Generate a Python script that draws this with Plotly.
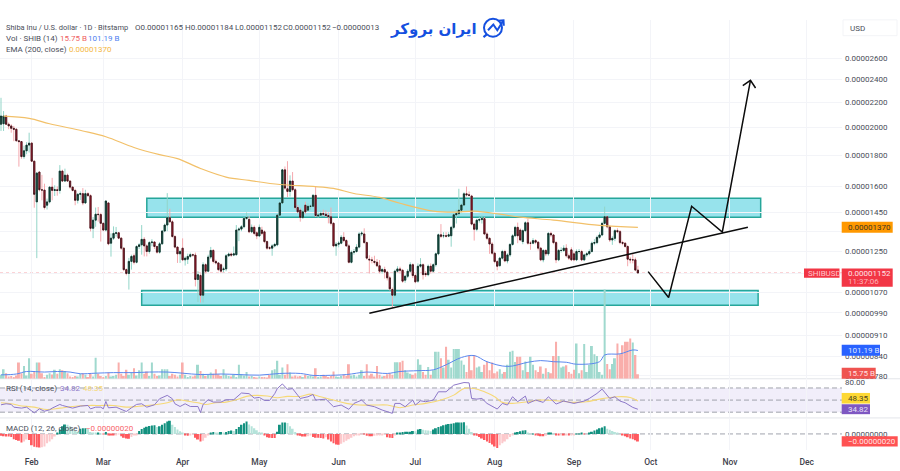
import math

import pandas as pd
import plotly.graph_objects as go

# prices are in units of 0.00000001 USD
opens = [2026, 2030, 2090, 2026, 2013, 1995, 1988, 1903, 1897, 1792,
         1832, 1872, 1886, 1761, 1509, 1690, 1580, 1578, 1490, 1509,
         1596, 1576, 1580, 1576, 1696, 1633, 1670, 1633, 1596, 1576,
         1518, 1553, 1557, 1503, 1557, 1545, 1365, 1408, 1440, 1438,
         1391, 1356, 1503, 1290, 1315, 1339, 1342, 1315, 1266, 1167,
         1150, 1204, 1230, 1200, 1274, 1282, 1309, 1277, 1250, 1293,
         1296, 1274, 1247, 1287, 1351, 1382, 1421, 1399, 1323, 1271,
         1239, 1266, 1211, 1214, 1227, 1235, 1233, 1124, 1141, 1059,
         1189, 1160, 1224, 1255, 1204, 1197, 1189, 1167, 1170, 1230,
         1238, 1233, 1235, 1356, 1361, 1373, 1417, 1412, 1347, 1370,
         1342, 1326, 1356, 1347, 1298, 1268, 1266, 1277, 1282, 1435,
         1503, 1704, 1586, 1570, 1633, 1580, 1477, 1462, 1422, 1490,
         1462, 1484, 1484, 1547, 1430, 1435, 1444, 1440, 1433, 1426,
         1391, 1277, 1285, 1290, 1319, 1303, 1277, 1200, 1246, 1250,
         1271, 1336, 1336, 1293, 1214, 1211, 1204, 1200, 1184, 1160,
         1167, 1156, 1131, 1082, 1059, 1160, 1170, 1164, 1121, 1138,
         1160, 1189, 1141, 1117, 1182, 1189, 1150, 1145, 1182, 1160,
         1189, 1239, 1332, 1327, 1327, 1325, 1327, 1370, 1437, 1443,
         1462, 1491, 1556, 1550, 1543, 1387, 1360, 1408, 1411, 1416,
         1336, 1314, 1286, 1242, 1203, 1185, 1219, 1250, 1206, 1234,
         1284, 1327, 1370, 1356, 1298, 1353, 1394, 1290, 1290, 1303,
         1295, 1266, 1211, 1255, 1239, 1339, 1331, 1293, 1211, 1255,
         1255, 1266, 1230, 1258, 1239, 1211, 1250, 1250, 1211, 1234,
         1239, 1250, 1290, 1293, 1319, 1331, 1391, 1426, 1373, 1306,
         1314, 1353, 1348, 1293, 1290, 1274, 1214, 1211, 1211, 1165]
highs = [2240, 2130, 2100, 2040, 2026, 2013, 1995, 1908, 1900, 1868,
         1893, 1962, 1893, 1765, 1690, 1695, 1672, 1617, 1528, 1600,
         1653, 1607, 1600, 1735, 1705, 1712, 1680, 1637, 1600, 1586,
         1560, 1570, 1590, 1580, 1565, 1553, 1425, 1477, 1480, 1447,
         1396, 1518, 1505, 1339, 1375, 1372, 1345, 1320, 1270, 1172,
         1220, 1235, 1240, 1280, 1290, 1382, 1320, 1285, 1300, 1310,
         1300, 1278, 1296, 1356, 1390, 1560, 1470, 1408, 1330, 1275,
         1258, 1314, 1227, 1240, 1245, 1240, 1245, 1160, 1150, 1200,
         1195, 1235, 1272, 1262, 1212, 1200, 1195, 1180, 1238, 1245,
         1245, 1274, 1382, 1370, 1382, 1425, 1450, 1430, 1385, 1380,
         1350, 1385, 1373, 1355, 1303, 1275, 1285, 1292, 1440, 1510,
         1710, 1726, 1761, 1669, 1690, 1590, 1490, 1475, 1465, 1510,
         1500, 1495, 1555, 1600, 1450, 1460, 1465, 1462, 1450, 1477,
         1398, 1295, 1300, 1330, 1345, 1310, 1285, 1255, 1262, 1285,
         1345, 1350, 1365, 1298, 1232, 1225, 1230, 1215, 1210, 1175,
         1180, 1162, 1140, 1090, 1167, 1182, 1180, 1170, 1145, 1170,
         1200, 1195, 1150, 1195, 1219, 1195, 1160, 1190, 1195, 1195,
         1245, 1338, 1387, 1345, 1345, 1345, 1378, 1445, 1465, 1586,
         1500, 1565, 1600, 1570, 1550, 1395, 1415, 1425, 1434, 1425,
         1345, 1320, 1295, 1250, 1210, 1225, 1258, 1258, 1242, 1290,
         1335, 1378, 1395, 1365, 1360, 1402, 1416, 1300, 1315, 1310,
         1300, 1272, 1262, 1262, 1345, 1348, 1335, 1300, 1262, 1270,
         1280, 1285, 1240, 1270, 1250, 1260, 1262, 1258, 1240, 1248,
         1260, 1298, 1310, 1328, 1345, 1400, 1482, 1432, 1380, 1325,
         1360, 1365, 1356, 1302, 1295, 1280, 1225, 1239, 1222, 1184]
lows = [1975, 1975, 2020, 1988, 1962, 1900, 1897, 1725, 1777, 1777,
        1808, 1820, 1757, 1476, 1219, 1570, 1518, 1466, 1466, 1500,
        1518, 1543, 1545, 1557, 1627, 1627, 1628, 1586, 1570, 1490,
        1500, 1520, 1490, 1498, 1540, 1349, 1315, 1373, 1400, 1298,
        1350, 1349, 1280, 1226, 1306, 1323, 1310, 1258, 1160, 1142,
        1082, 1167, 1190, 1195, 1262, 1235, 1227, 1227, 1240, 1275,
        1262, 1240, 1240, 1282, 1345, 1350, 1395, 1318, 1265, 1197,
        1197, 1205, 1185, 1192, 1220, 1225, 1095, 1032, 1030, 1030,
        1150, 1155, 1215, 1195, 1190, 1160, 1152, 1155, 1160, 1225,
        1225, 1228, 1230, 1300, 1350, 1365, 1410, 1340, 1340, 1330,
        1310, 1320, 1330, 1290, 1258, 1258, 1230, 1270, 1275, 1425,
        1498, 1580, 1537, 1540, 1570, 1465, 1445, 1400, 1415, 1440,
        1455, 1465, 1480, 1425, 1420, 1425, 1430, 1425, 1391, 1380,
        1270, 1230, 1270, 1285, 1295, 1272, 1195, 1195, 1235, 1245,
        1265, 1325, 1288, 1212, 1150, 1195, 1190, 1178, 1150, 1150,
        1128, 1120, 1078, 1009, 1050, 1155, 1150, 1110, 1110, 1130,
        1155, 1130, 1108, 1110, 1175, 1124, 1135, 1138, 1150, 1155,
        1180, 1232, 1315, 1315, 1318, 1320, 1273, 1360, 1390, 1430,
        1450, 1485, 1540, 1540, 1380, 1303, 1350, 1395, 1390, 1330,
        1305, 1239, 1235, 1195, 1164, 1178, 1212, 1200, 1195, 1225,
        1278, 1320, 1290, 1300, 1285, 1345, 1283, 1258, 1285, 1285,
        1255, 1205, 1200, 1228, 1230, 1320, 1285, 1196, 1205, 1245,
        1248, 1222, 1210, 1205, 1205, 1205, 1240, 1205, 1205, 1225,
        1232, 1245, 1280, 1285, 1312, 1325, 1385, 1365, 1296, 1282,
        1300, 1340, 1285, 1280, 1268, 1182, 1195, 1195, 1160, 1152]
closes = [2090, 2090, 2026, 2013, 1995, 1988, 1903, 1897, 1792, 1832,
          1872, 1886, 1761, 1553, 1683, 1580, 1578, 1477, 1509, 1596,
          1576, 1580, 1576, 1696, 1633, 1670, 1633, 1596, 1576, 1518,
          1553, 1557, 1503, 1557, 1545, 1365, 1408, 1440, 1438, 1391,
          1356, 1514, 1287, 1315, 1339, 1342, 1315, 1266, 1167, 1150,
          1204, 1227, 1200, 1274, 1282, 1309, 1277, 1250, 1293, 1296,
          1274, 1247, 1287, 1351, 1382, 1421, 1399, 1323, 1271, 1239,
          1250, 1211, 1219, 1227, 1235, 1233, 1124, 1145, 1059, 1189,
          1160, 1224, 1255, 1204, 1197, 1167, 1160, 1170, 1230, 1238,
          1233, 1239, 1356, 1361, 1373, 1417, 1422, 1347, 1370, 1339,
          1326, 1370, 1339, 1298, 1266, 1266, 1277, 1284, 1435, 1503,
          1704, 1590, 1570, 1633, 1580, 1477, 1453, 1422, 1453, 1453,
          1484, 1484, 1547, 1433, 1435, 1444, 1440, 1433, 1426, 1391,
          1277, 1285, 1290, 1319, 1303, 1277, 1200, 1246, 1250, 1271,
          1336, 1340, 1293, 1219, 1211, 1208, 1200, 1184, 1160, 1167,
          1156, 1131, 1085, 1059, 1160, 1170, 1164, 1117, 1138, 1160,
          1189, 1141, 1114, 1182, 1189, 1145, 1145, 1182, 1160, 1189,
          1239, 1332, 1324, 1327, 1325, 1332, 1370, 1437, 1443, 1462,
          1491, 1556, 1550, 1547, 1387, 1360, 1408, 1411, 1416, 1336,
          1314, 1286, 1242, 1203, 1182, 1219, 1250, 1206, 1234, 1284,
          1327, 1370, 1327, 1306, 1353, 1394, 1290, 1290, 1303, 1295,
          1266, 1211, 1255, 1239, 1339, 1331, 1293, 1211, 1255, 1255,
          1266, 1230, 1219, 1211, 1211, 1250, 1250, 1211, 1234, 1239,
          1250, 1290, 1293, 1319, 1331, 1391, 1426, 1373, 1306, 1314,
          1353, 1348, 1293, 1290, 1274, 1214, 1211, 1211, 1165, 1152]

# billions
volumes = [14, 34, 20, 8, 10, 6, 12, 58, 20, 46,
           12, 73, 18, 25, 58, 58, 20, 6, 14, 20,
           15, 32, 18, 34, 30, 28, 20, 8, 6, 10,
           8, 18, 20, 14, 6, 20, 8, 75, 18, 10,
           6, 10, 22, 8, 10, 14, 58, 18, 10, 32,
           14, 22, 38, 12, 30, 58, 18, 26, 10, 58,
           18, 10, 12, 34, 34, 34, 10, 18, 14, 8,
           14, 58, 14, 6, 10, 8, 12, 50, 28, 18,
           10, 14, 22, 18, 34, 16, 10, 34, 14, 10,
           8, 14, 6, 50, 16, 12, 24, 8, 10, 6,
           4, 8, 6, 6, 4, 14, 30, 34, 64, 14,
           40, 14, 52, 22, 8, 12, 8, 10, 6, 14,
           10, 12, 8, 38, 6, 8, 14, 10, 6, 10,
           26, 8, 6, 10, 14, 10, 52, 12, 14, 8,
           14, 30, 10, 52, 12, 18, 8, 46, 14, 8,
           10, 16, 20, 14, 59, 59, 59, 64, 30, 22,
           18, 14, 20, 70, 50, 24, 14, 42, 14, 30,
           97, 97, 73, 40, 114, 68, 40, 106, 106, 106,
           65, 50, 24, 81, 30, 85, 40, 44, 24, 50,
           61, 30, 58, 20, 26, 34, 18, 24, 50, 97,
           100, 60, 79, 79, 30, 62, 24, 79, 50, 30,
           24, 44, 18, 38, 24, 20, 81, 132, 81, 40,
           44, 48, 24, 18, 32, 126, 20, 30, 124, 24,
           50, 117, 88, 81, 24, 14, 319, 53, 34, 53,
           73, 126, 88, 120, 132, 132, 144, 130, 85, 15.75]

# histogram, units of 0.00000001
macd_hist = [-5, -6, -7, -7, -8, -14, -16, -18, -23, -20,
             -15, -16, -30, -34, -35, -36, -35, -33, -25, -20,
             -14, -7, 2, 12, 20, 25, 24, 20, 14, 8,
             6, 14, 15, 15, 13, 5, 3, 2, 3, 1,
             -1, 5, -2, -3, -3, -2, -1, -6, -10, -12,
             -13, -8, -4, -2, 8, 13, 16, 19, 21, 22,
             23, 18, 20, 24, 28, 33, 35, 24, 18, 12,
             7, 4, -2, -5, -4, -1, -10, -15, -20, -18,
             -10, -4, 3, 5, 4, 3, 5, 4, 5, 8,
             9, 8, 13, 18, 24, 28, 33, 25, 20, 15,
             10, 5, 2, -3, -9, -10, -11, -11, 6, 24,
             30, 30, 29, 20, 14, 5, -2, -5, -7, -7,
             -6, -3, -8, -10, -10, -11, -12, -9, -15, -20,
             -25, -28, -29, -26, -22, -18, -14, -10, -6, -4,
             -2, -1, -1, -5, -6, -6, -5, -4, -3, -2,
             -1, -9, -10, -11, -4, 3, 3, 5, 6, 6,
             6, 8, 7, 12, 13, 11, 10, 9, 8, 12,
             15, 18, 20, 23, 25, 26, 27, 28, 30, 30,
             30, 31, 22, 14, 5, -2, -5, -8, -12, -16,
             -20, -24, -28, -33, -37, -30, -25, -20, -14, -8,
             -3, 3, 5, 7, 9, 10, 3, 1, 1, -2,
             -5, -6, -6, -5, 2, 2, 1, -3, -4, -3,
             -4, -3, -4, -3, -2, 1, 1, 2, -1, 0,
             3, 6, 9, 12, 15, 17, 20, 14, 11, 8,
             5, 2, 0, -3, -6, -9, -12, -14, -17, -20]

# lines read at sample days, candle number counted from 20 Jan
ema_days = [1, 11, 19, 32, 41, 52, 62, 69, 78, 88, 97, 109, 122, 130, 138, 148,
            156, 169, 177, 185, 195, 203, 216, 234, 249]
ema_vals = [2090, 2072, 2030, 1975, 1932, 1855, 1805, 1778, 1713, 1658, 1637, 1612,
            1600, 1588, 1558, 1535, 1501, 1457, 1451, 1457, 1440, 1424, 1408, 1380, 1370]

vol_ma_days = [0, 6, 10, 17, 22, 27, 31, 37, 44, 52, 58, 65, 71, 78, 86, 93, 101, 109,
               117, 122, 127, 135, 143, 151, 156, 163, 169, 174, 180, 185, 190, 198,
               206, 211, 216, 221, 225, 234, 236, 242, 247, 249]
vol_ma_vals = [14, 17, 26, 24, 26, 24, 18, 20, 22, 22, 24, 24, 20, 15, 17, 15, 13, 19,
               19, 12, 12, 15, 24, 19, 26, 29, 32, 50, 76, 83, 61, 44,
               59, 65, 61, 59, 52, 61, 85, 89, 103, 101.19]

rsi_days = [0, 2, 4, 5, 8, 10, 13, 15, 17, 19, 20, 23, 24, 26, 28, 31, 34, 35, 37, 39,
            40, 41, 42, 45, 47, 49, 51, 53, 55, 57, 60, 62, 65, 67, 68, 70, 72, 74, 77, 78,
            79, 81, 83, 86, 88, 91, 94, 97, 99, 101, 103, 105, 107, 108, 110, 112, 114, 116,
            117, 120, 122, 123, 127, 130, 133, 136, 138, 141, 143, 146, 149, 153, 154, 156,
            158, 161, 162, 164, 166, 169, 171, 174, 177, 181, 183, 184, 186, 188, 190, 194,
            196, 198, 200, 202, 205, 206, 209, 212, 214, 217, 220, 224, 228, 230, 233, 235,
            238, 240, 242, 244, 247, 249]
rsi_vals = [42.2, 43.9, 42.8, 38.3, 36.7, 38.3, 28.9, 35.5, 31.6, 33.9, 36.7, 42.8, 41.1, 38.3,
            36.7, 40, 41.1, 35.5, 38.3, 38.3, 35.5, 47.8, 37.2, 38.3, 34.4, 31.1, 37.2, 42.8,
            43.9, 38.3, 42.2, 52.2, 57.8, 52.2, 43.9, 39.4, 43.9, 39.4, 39.4, 29.4, 42.8, 50.6,
            46.7, 46.7, 50.6, 50.6, 61.7, 60.6, 53.3, 54.4, 49.4, 49.4, 60.6, 68.9, 76.7, 67.8,
            68.9, 57.8, 52.7, 55.5, 59.3, 50, 51.6, 39, 41.8, 34.7, 44.5, 50, 41.8, 39, 33.6,
            28.1, 44.5, 44.5, 39, 50, 41.8, 48.9, 47.3, 50, 63.7, 63.7, 74.7, 79, 78.5, 52.7,
            51.6, 52.7, 44.5, 35.2, 44.5, 41.8, 55.5, 47.3, 56.6, 44.5, 50, 46.2, 55.5, 43.4,
            48.4, 44.5, 48.4, 52.7, 61, 68.1, 52.7, 55.5, 48.4, 45.6, 37.9, 34.82]

rsi_ma_days = [0, 4, 7, 13, 18, 23, 28, 34, 39, 44, 49, 54, 60, 65, 69, 73, 77, 80, 84, 88,
               92, 96, 100, 104, 108, 112, 117, 121, 125, 130, 135, 140, 146, 151, 156, 161,
               166, 172, 177, 181, 185, 189, 193, 196, 200, 206, 211, 217, 224, 229, 234,
               241, 246, 249]
rsi_ma_vals = [45.6, 43.9, 41.1, 38.3, 34.4, 36.7, 39.4, 41.1, 41.1, 41.1, 38.3, 39.9, 42.2,
               45.6, 50.6, 48.3, 45.6, 42.8, 45.6, 46.7, 50.6, 56.1, 57.8, 56.7, 53.9, 56.1,
               56, 59.8, 55.5, 50, 44.5, 41.8, 41.8, 41.8, 37.4, 41.8, 44.5, 50, 58.2, 69.2,
               69.2, 63.7, 55.5, 46.2, 44.5, 47.3, 50, 48.9, 46.2, 47.3, 51.6, 55.5, 54.4, 48.35]

# drawings on the chart
trend_dates = ["2025-06-13", "2025-11-08"]
trend_prices = [989, 1371]
path_dates = ["2025-09-30", "2025-10-08", "2025-10-17", "2025-10-29", "2025-11-09"]
path_prices = [1158, 1050, 1484, 1346, 2393]
head_dates = ["2025-11-06", "2025-11-09", "2025-11-11"]
head_prices = [2346, 2393, 2325]
zone_dates = [["2025-03-18", "2025-11-13"], ["2025-03-16", "2025-11-12"]]
zone_prices = [[1424, 1530], [1019, 1078]]

price_ticks = [2600, 2400, 2200, 2000, 1800, 1600, 1450, 1350, 1250, 1150, 1070, 990, 910, 840, 780]
covered_ticks = [1350, 1150]  # these sit under the price tags, only the grid line shows

W, H = 842, 471
GREEN, RED = "#0f6655", "#c2182f"
GREEN_PALE, RED_PALE = "#93d5c8", "#f5a9ae"
TEXT = "#4a4e59"
GRID = "#f3f4f8"

dates = pd.date_range("2025-01-20", periods=len(closes)).strftime("%Y-%m-%d").tolist()


def px(x):
    return x / W


def py(y):
    return 1 - y / H


def pick(idx):
    return [dates[i] for i in idx]


fig = go.Figure()

# pale wicks first, bodies on top without wicks
fig.add_trace(go.Candlestick(x=dates, open=opens, high=highs, low=lows, close=closes,
                             increasing={"line": {"color": GREEN_PALE, "width": 1}, "fillcolor": GREEN_PALE},
                             decreasing={"line": {"color": RED_PALE, "width": 1}, "fillcolor": RED_PALE},
                             showlegend=False, hoverinfo="skip"))
fig.add_trace(go.Candlestick(x=dates, open=opens, close=closes,
                             high=[max(o, c) for o, c in zip(opens, closes)],
                             low=[min(o, c) for o, c in zip(opens, closes)],
                             increasing={"line": {"color": "#10231f", "width": 0.8}, "fillcolor": GREEN},
                             decreasing={"line": {"color": "#2b1216", "width": 0.8}, "fillcolor": RED},
                             showlegend=False))
fig.add_trace(go.Scatter(x=pick(ema_days), y=ema_vals, mode="lines",
                         line={"color": "#f2c069", "width": 1.2, "shape": "spline"}))
black = {"color": "#0c0c0c", "width": 1.5}
fig.add_trace(go.Scatter(x=trend_dates, y=trend_prices, mode="lines", line=black))
fig.add_trace(go.Scatter(x=path_dates, y=path_prices, mode="lines", line=black))
fig.add_trace(go.Scatter(x=head_dates, y=head_prices, mode="lines", line=black))

# volume sits in the bottom of the price pane
bar_colors = ["#a0d9ce" if c >= o else "#f9aeab" for o, c in zip(opens, closes)]
fig.add_trace(go.Bar(x=dates, y=volumes, marker={"color": bar_colors, "line": {"width": 0}},
                     xaxis="x4", yaxis="y4"))
fig.add_trace(go.Scatter(x=pick(vol_ma_days), y=vol_ma_vals, mode="lines", xaxis="x4", yaxis="y4",
                         line={"color": "#5b87ee", "width": 1, "shape": "spline"}))

# RSI
fig.add_trace(go.Scatter(x=pick(rsi_ma_days), y=rsi_ma_vals, mode="lines", xaxis="x2", yaxis="y2",
                         line={"color": "#f6d977", "width": 1.1, "shape": "spline"}))
fig.add_trace(go.Scatter(x=pick(rsi_days), y=rsi_vals, mode="lines", xaxis="x2", yaxis="y2",
                         line={"color": "#8d78c8", "width": 1}))

# MACD histogram, shade depends on whether the bar grows or shrinks
macd_colors = []
for i, v in enumerate(macd_hist):
    prev = macd_hist[i - 1] if i else v
    if v >= 0:
        macd_colors.append("#12917f" if v >= prev else "#b5e3da")
    else:
        macd_colors.append("#ff5a5f" if v <= prev else "#fcc9cc")
fig.add_trace(go.Bar(x=dates, y=macd_hist, marker={"color": macd_colors, "line": {"width": 0}},
                     xaxis="x3", yaxis="y3"))

shapes = []
# blank area behind the header texts
shapes.append(dict(type="rect", xref="paper", yref="paper", layer="between", line={"width": 0}, fillcolor="white",
                   x0=0, x1=px(375), y0=py(54), y1=py(18)))
shapes.append(dict(type="rect", xref="paper", yref="paper", layer="between", line={"width": 0}, fillcolor="white",
                   x0=px(375), x1=px(520), y0=py(48), y1=py(18)))
for zd, zp in zip(zone_dates, zone_prices):
    shapes.append(dict(type="rect", xref="x", yref="y", layer="below", x0=zd[0], x1=zd[1], y0=zp[0], y1=zp[1],
                       fillcolor="#97e3ec", line={"color": "#26a69a", "width": 1.5}))
shapes.append(dict(type="line", xref="paper", yref="y", layer="below", x0=0, x1=1, y0=closes[-1], y1=closes[-1],
                   line={"color": "#f6a5ab", "width": 1, "dash": "dot"}))
# RSI band and levels
shapes.append(dict(type="rect", xref="paper", yref="y2", layer="below", x0=0, x1=1, y0=30, y1=70,
                   fillcolor="#f1eefa", line={"width": 0}))
for level in [70, 50, 30]:
    shapes.append(dict(type="line", xref="paper", yref="y2", layer="below", x0=0, x1=1, y0=level, y1=level,
                       line={"color": "#a0a3ad", "width": 1, "dash": "5px,3px"}))
shapes.append(dict(type="line", xref="paper", yref="y3", layer="below", x0=0, x1=1, y0=0, y1=0,
                   line={"color": "#a0a3ad", "width": 1, "dash": "5px,3px"}))
# pane separators
for sep in [380, 419.5]:
    shapes.append(dict(type="line", xref="paper", yref="paper", x0=0, x1=px(900), y0=py(sep), y1=py(sep),
                       layer="below", line={"color": "#e3e5ea", "width": 1}))
# USD box
shapes.append(dict(type="rect", xref="paper", yref="paper", x0=px(843), x1=px(897), y0=py(34), y1=py(18),
                   line={"color": "#f3f4f7", "width": 1}, fillcolor="white"))

annotations = []


def label(x, y, text, color=TEXT, size=8, font="Roboto", weight=400, anchor="left"):
    annotations.append(dict(xref="paper", yref="paper", x=px(x), y=py(y), xanchor=anchor, yanchor="middle",
                            text=text, showarrow=False, borderpad=0,
                            font={"color": color, "size": size, "family": font, "weight": weight}))


def tag(x0, x1, y0, y1, text, bg, fg):
    shapes.append(dict(type="rect", xref="paper", yref="paper", layer="above", x0=px(x0), x1=px(x1),
                       y0=py(y1), y1=py(y0), fillcolor=bg, line={"width": 0}))
    if text:
        label(x0 + 5, (y0 + y1) / 2, text, color=fg)


label(5, 26, "Shiba Inu / U.S. dollar · 1D · Bitstamp", size=7.5)
label(134, 26, "O0.00001165")
label(184, 26, "H0.00001184")
label(234, 26, "L0.00001152")
label(282, 26, "C0.00001152")
label(331, 26, "−0.00000013")
label(5, 36.5, "Vol · SHIB (14)")
label(58.5, 36.5, "15.75 B", color="#ef5f62")
label(86.5, 36.5, "101.19 B", color="#4f7ff0")
label(5, 47.5, "EMA (200, close)")
label(68, 47.5, "0.00001370", color="#f4b73f")
label(5, 390, "RSI (14, close)")
label(58.5, 390, "34.82", color="#8d78c8")
label(82, 390, "48.35", color="#f6d977")
label(5, 430, "MACD (12, 26, close)")
label(85, 430, "−0.00000020", color="#f7646a")
label(849, 26.5, "USD")

tag(841.7, 892.7, 221.7, 232.7, "0.00001370", "#ff9800", "#3d3523")
tag(841.7, 892.7, 268.7, 287.3, "", "#f23645", "white")
label(846.7, 273.5, "0.00001152", color="#ffe3e5")
label(846.7, 282.3, "11:37:06", color="#ffb3b8")
tag(804, 839.5, 268.7, 278, "", "#f23645", "white")
label(806.5, 273.5, "SHIBUSD", color="#ffc6ca")
tag(841.7, 880, 345.7, 356.7, "101.19 B", "#2962ff", "#dfe7ff")
tag(841.7, 875.7, 369, 380, "15.75 B", "#ef5350", "#ffe0e0")
tag(841.7, 870, 394.3, 405, "48.35", "#fdd835", "#4b4420")
tag(841.7, 870, 405.7, 415.7, "34.82", "#7e57c2", "#e8e0f7")
tag(841.7, 897.7, 438, 448.3, "−0.00000020", "#ff5252", "#ffe5e5")

# logo
BLUE = "#1550e0"
label(478, 27, "ایران بروکر", color=BLUE, size=15, font="DejaVu Sans", weight=700, anchor="right")
shapes.append(dict(type="circle", xref="paper", yref="paper", line={"color": BLUE, "width": 2},
                   x0=px(484), x1=px(502), y0=py(35), y1=py(17)))
shapes.append(dict(type="path", xref="paper", yref="paper", line={"color": BLUE, "width": 2},
                   path=f"M {px(488)} {py(28.5)} L {px(493.3)} {py(22.7)} L {px(497.3)} {py(28.5)} L {px(503)} {py(19.3)}"))
shapes.append(dict(type="path", xref="paper", yref="paper", line={"color": BLUE, "width": 2},
                   path=f"M {px(498)} {py(19)} L {px(503.5)} {py(18.5)} L {px(503.8)} {py(24)}"))
shapes.append(dict(type="line", xref="paper", yref="paper", line={"color": BLUE, "width": 2.2},
                   x0=px(483.5), x1=px(486.5), y0=py(35.5), y1=py(33)))

date_range = ["2025-01-19 14:38", "2025-12-14 19:00"]
fig.update_layout(
    width=900, height=471, autosize=False,
    margin={"l": 0, "r": 58, "t": 0, "b": 0},
    paper_bgcolor="white", plot_bgcolor="rgba(0,0,0,0)",
    showlegend=False, bargap=0.22,
    shapes=shapes, annotations=annotations,
    xaxis={"type": "date", "range": date_range, "anchor": "y", "rangeslider": {"visible": False},
           "dtick": "M1", "showticklabels": False, "gridcolor": GRID, "zeroline": False, "showline": False},
    yaxis={"type": "log", "side": "right", "anchor": "x", "domain": [py(380), py(18)],
           "range": [math.log10(771.2), math.log10(3011)],
           "tickmode": "array", "tickvals": price_ticks,
           "ticktext": ["" if p in covered_ticks else f"0.{p:08d}" for p in price_ticks],
           "tickfont": {"size": 8, "color": TEXT, "family": "Roboto"}, "gridcolor": GRID, "showline": False,
           "zeroline": False, "ticks": "", "ticklabelstandoff": 2},
    xaxis4={"type": "date", "matches": "x", "visible": False, "anchor": "y4"},
    yaxis4={"range": [0, 326], "side": "right", "anchor": "x4", "domain": [py(380), py(288)], "visible": False},
    xaxis2={"type": "date", "matches": "x", "anchor": "y2", "dtick": "M1", "showticklabels": False,
            "gridcolor": GRID, "zeroline": False},
    yaxis2={"range": [21.3, 83.6], "side": "right", "anchor": "x2", "domain": [py(419), py(381)],
            "tickmode": "array", "tickvals": [80], "ticktext": ["80.00"], "showgrid": False, "zeroline": False,
            "ticklabelstandoff": 2, "tickfont": {"size": 8, "color": TEXT, "family": "Roboto"}},
    xaxis3={"type": "date", "matches": "x", "anchor": "y3", "dtick": "M1", "tickformat": "%b",
            "gridcolor": GRID, "zeroline": False, "ticks": "", "ticklabelstandoff": 5,
            "tickfont": {"size": 8.5, "color": "#3f424c", "family": "Roboto", "weight": 500}},
    yaxis3={"range": [-43, 41], "side": "right", "anchor": "x3", "domain": [py(452), py(420)],
            "tickmode": "array", "tickvals": [0], "ticktext": ["0.00000000"], "showgrid": False, "zeroline": False,
            "ticklabelstandoff": 2, "tickfont": {"size": 8, "color": TEXT, "family": "Roboto"}},
)

# the default page has a body margin, which would push the chart off the window
fig.write_html("out.html", config={"displayModeBar": False}, post_script="document.body.style.margin = '0';")
